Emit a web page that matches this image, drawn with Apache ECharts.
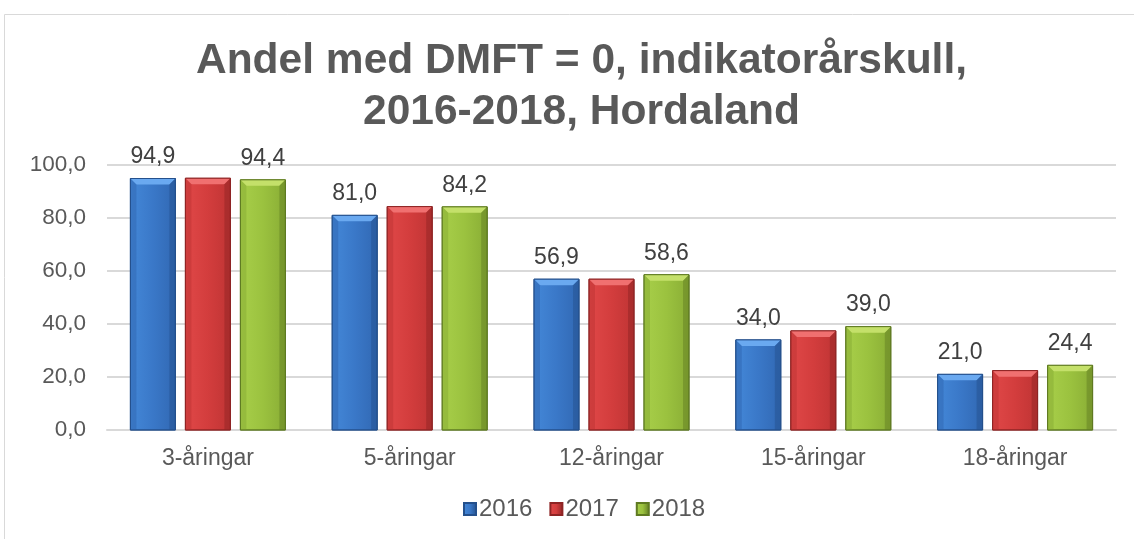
<!DOCTYPE html>
<html><head><meta charset="utf-8">
<script src="https://cdn.jsdelivr.net/npm/echarts@6/dist/echarts.min.js"></script>
<style>html,body{margin:0;padding:0;background:#fff}#c{width:1134px;height:539px}</style>
</head><body><div id="c"></div>
<script>
const categories = ['3-åringar', '5-åringar', '12-åringar', '15-åringar', '18-åringar'];
const years = ['2016', '2017', '2018'];
const v2016 = [94.9, 81.0, 56.9, 34.0, 21.0];
const v2017 = [95.0, 84.3, 56.9, 37.4, 22.4];
const v2018 = [94.4, 84.2, 58.6, 39.0, 24.4];
const yTicks = [0, 20, 40, 60, 80, 100];
const showLabel = [true, false, true];
const titleText = 'Andel med DMFT = 0, indikatorårskull,\n2016-2018, Hordaland';

// [light top, main light, main, main dark, edge]
const palettes = [
  ['#6aa9f0', '#4488d8', '#3a78c8', '#3168b3', '#24508c'],
  ['#f07070', '#e04848', '#d33d3d', '#bf3434', '#8e2424'],
  ['#c4e06a', '#a8cf4a', '#9bc23f', '#89ad35', '#5f7a22']
];
function hgrad(a,b,c){
  return new echarts.graphic.LinearGradient(0,0,1,0,[
    {offset:0,color:a},{offset:0.5,color:b},{offset:1,color:c}]);
}
const fmt = v => v.toFixed(1).replace('.', ',');
const allVals = [v2016, v2017, v2018];
const BW = 45, STEP = 55, BEV = 6;
const FONT = 'Liberation Sans, Arial, sans-serif';

function makeRender(si){
  const p = palettes[si];
  return function(params, api){
    const ci = api.value(0), val = api.value(1);
    const base = api.coord([ci, 0]);
    const top = api.coord([ci, val]);
    const cx = base[0] + (si - 1) * STEP;
    const x = cx - BW/2, y = top[1], w = BW, h = base[1] - top[1];
    const b = Math.min(BEV, h/2);
    const children = [
      {type:'rect', shape:{x:x,y:y,width:w,height:h},
        style:{fill:hgrad(p[1],p[2],p[3]), stroke:p[4], lineWidth:1}},
      {type:'polygon', shape:{points:[[x,y],[x+w,y],[x+w-b,y+b],[x+b,y+b]]},
        style:{fill:p[0]}},
      {type:'polygon', shape:{points:[[x,y],[x+b,y+b],[x+b,y+h],[x,y+h]]},
        style:{fill:p[3], opacity:0.55}},
      {type:'polygon', shape:{points:[[x+w,y],[x+w-b,y+b],[x+w-b,y+h],[x+w,y+h]]},
        style:{fill:p[4], opacity:0.45}},
      {type:'rect', shape:{x:x,y:y,width:w,height:h},
        style:{fill:'none', stroke:p[4], lineWidth:1}}
    ];
    if (showLabel[si]) {
      children.push({type:'text', style:{text:fmt(val), x:cx, y:y-10, align:'center', verticalAlign:'bottom',
        fontSize:23, fill:'#404040', fontFamily:FONT}});
    }
    return {type:'group', children:children};
  };
}

const chart = echarts.init(document.getElementById('c'));
chart.setOption({
  animation:false,
  textStyle:{fontFamily:FONT},
  graphic:[
    {type:'rect',shape:{x:4.5,y:14.5,width:1200,height:600},style:{fill:'none',stroke:'#d9d9d9',lineWidth:1},silent:true,z:-1},
    {type:'text',x:581.5,y:36,silent:true,
      style:{text:titleText,align:'center',verticalAlign:'top',fontSize:42.5,fontWeight:'bold',
        fill:'#595959',lineHeight:51,fontFamily:FONT}}
  ],
  legend:{data:years,top:492,left:458,itemWidth:12,itemHeight:12,itemGap:17,icon:'rect',
    textStyle:{fontSize:24,color:'#595959',padding:[0,0,0,-2]}},
  grid:{left:107,right:18,top:165,bottom:109},
  xAxis:{type:'category',data:categories,axisTick:{show:false},
    axisLine:{lineStyle:{color:'#d9d9d9',width:2}},
    axisLabel:{fontSize:23,color:'#595959',margin:17}},
  yAxis:{type:'value',min:yTicks[0],max:yTicks[yTicks.length-1],interval:20,
    axisLine:{show:false},axisTick:{show:false},
    splitLine:{lineStyle:{color:'#d9d9d9',width:2}},
    axisLabel:{fontSize:22.5,color:'#595959',margin:21,formatter:v=>fmt(v)}},
  series: years.map((y,i)=>({
    name:y,type:'custom',renderItem:makeRender(i),
    data:allVals[i].map((v,k)=>[k,v]),encode:{x:0,y:1},
    itemStyle:{color:hgrad(palettes[i][1],palettes[i][2],palettes[i][4]),borderColor:palettes[i][4],borderWidth:1}
  }))
});
</script></body></html>
